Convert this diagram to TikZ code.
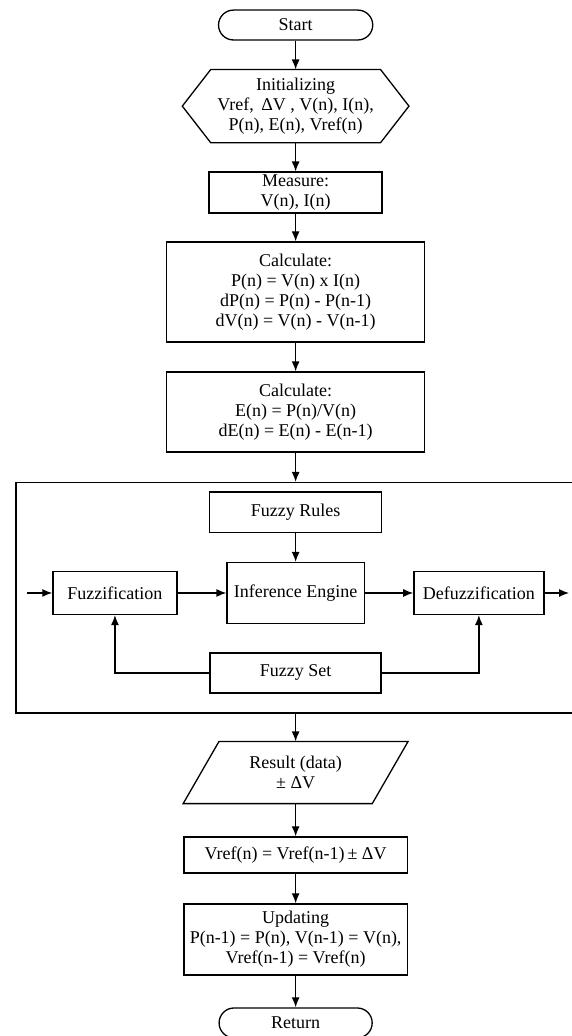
\documentclass[tikz,border=0pt]{standalone}
\usepackage{fontspec}
\setmainfont{Liberation Serif}
\usetikzlibrary{arrows.meta,shapes.misc}

\begin{document}
\begin{tikzpicture}[
    font=\fontsize{18}{20}\selectfont,
    line width=1.3pt,
    box/.style={draw, rectangle, align=center, inner sep=0pt},
    plain/.style={rectangle, align=center, inner sep=0pt},
    terminal/.style={draw, rounded rectangle, minimum width=5.42cm, minimum height=1.05cm, inner sep=0pt},
    flow/.style={-{Latex[length=10pt,width=8pt]}}
]
    \useasboundingbox (0,0) rectangle (20.07,-36.41);

    \node[terminal] (start) at (10.39,-0.88) {Start};
    \node[plain, minimum width=5.92cm, minimum height=2.53cm] (init) at (10.39,-3.73) {Initializing\\Vref, \,ΔV , V(n), I(n),\\P(n), E(n), Vref(n)};
    \draw (init.north west) -- (init.north east) -- ([xshift=1cm]init.east) -- (init.south east) -- (init.south west) -- ([xshift=-1cm]init.west) -- cycle;
    \node[box, minimum width=6.08cm, minimum height=1.44cm] (measure) at (10.39,-6.77) {Measure:\\V(n), I(n)};
    \node[box, minimum width=9.07cm, minimum height=3.51cm] (calcp) at (10.39,-10.26) {Calculate:\\P(n) = V(n) x I(n)\\dP(n) = P(n) - P(n-1)\\dV(n) = V(n) - V(n-1)};
    \node[box, minimum width=9.07cm, minimum height=2.81cm] (calce) at (10.39,-14.48) {Calculate:\\E(n) = P(n)/V(n)\\dE(n) = E(n) - E(n-1)};

    \node[box, minimum width=19.65cm, minimum height=8.10cm] (flc) at (10.39,-21.01) {};
    \node[box, minimum width=6.05cm, minimum height=1.41cm] (rules) at (10.39,-18.00) {Fuzzy Rules};
    \node[box, minimum width=4.82cm, minimum height=2.14cm] (engine) at (10.39,-20.84) {Inference Engine};
    \node[box, minimum width=4.36cm, minimum height=1.51cm] (fuzzif) at (4.04,-20.84) {Fuzzification};
    \node[box, minimum width=4.57cm, minimum height=1.51cm] (defuzz) at (16.83,-20.84) {Defuzzification};
    \node[box, minimum width=6.01cm, minimum height=1.41cm] (fset) at (10.39,-23.65) {Fuzzy Set};
    \coordinate (flcin) at (0.95,-20.84);
    \coordinate (flcout) at (20.00,-20.84);

    \node[plain, minimum width=6.6cm, minimum height=2.14cm] (result) at (10.39,-27.15) {Result (data)\\± ΔV};
    \draw ([xshift=0.63cm]result.north west) -- ([xshift=0.63cm]result.north east) -- ([xshift=-0.63cm]result.south east) -- ([xshift=-0.63cm]result.south west) -- cycle;
    \node[box, minimum width=7.84cm, minimum height=1.27cm] (vref) at (10.39,-30.05) {Vref(n) = Vref(n-1)\,± ΔV};
    \node[box, minimum width=7.84cm, minimum height=2.50cm] (update) at (10.39,-33.02) {Updating\\P(n-1) = P(n), V(n-1) = V(n),\\Vref(n-1) = Vref(n)};
    \node[terminal, minimum width=5.38cm] (return) at (10.39,-35.95) {Return};

    \draw[flow] (start.south) -- (init.north);
    \draw[flow] (init.south) -- (measure.north);
    \draw[flow] (measure.south) -- (calcp.north);
    \draw[flow] (calcp.south) -- (calce.north);
    \draw[flow] (calce.south) -- (flc.north);
    \draw[flow] (rules.south) -- (engine.north);
    \draw[flow] (flcin) -- (fuzzif.west);
    \draw[flow] (fuzzif.east) -- (engine.west);
    \draw[flow] (engine.east) -- (defuzz.west);
    \draw[flow] (defuzz.east) -- (flcout);
    \draw[flow] (fset.west) -| (fuzzif.south);
    \draw[flow] (fset.east) -| (defuzz.south);
    \draw[flow] (flc.south) -- (result.north);
    \draw[flow] (result.south) -- (vref.north);
    \draw[flow] (vref.south) -- (update.north);
    \draw[flow] (update.south) -- (return.north);
\end{tikzpicture}
\end{document}
